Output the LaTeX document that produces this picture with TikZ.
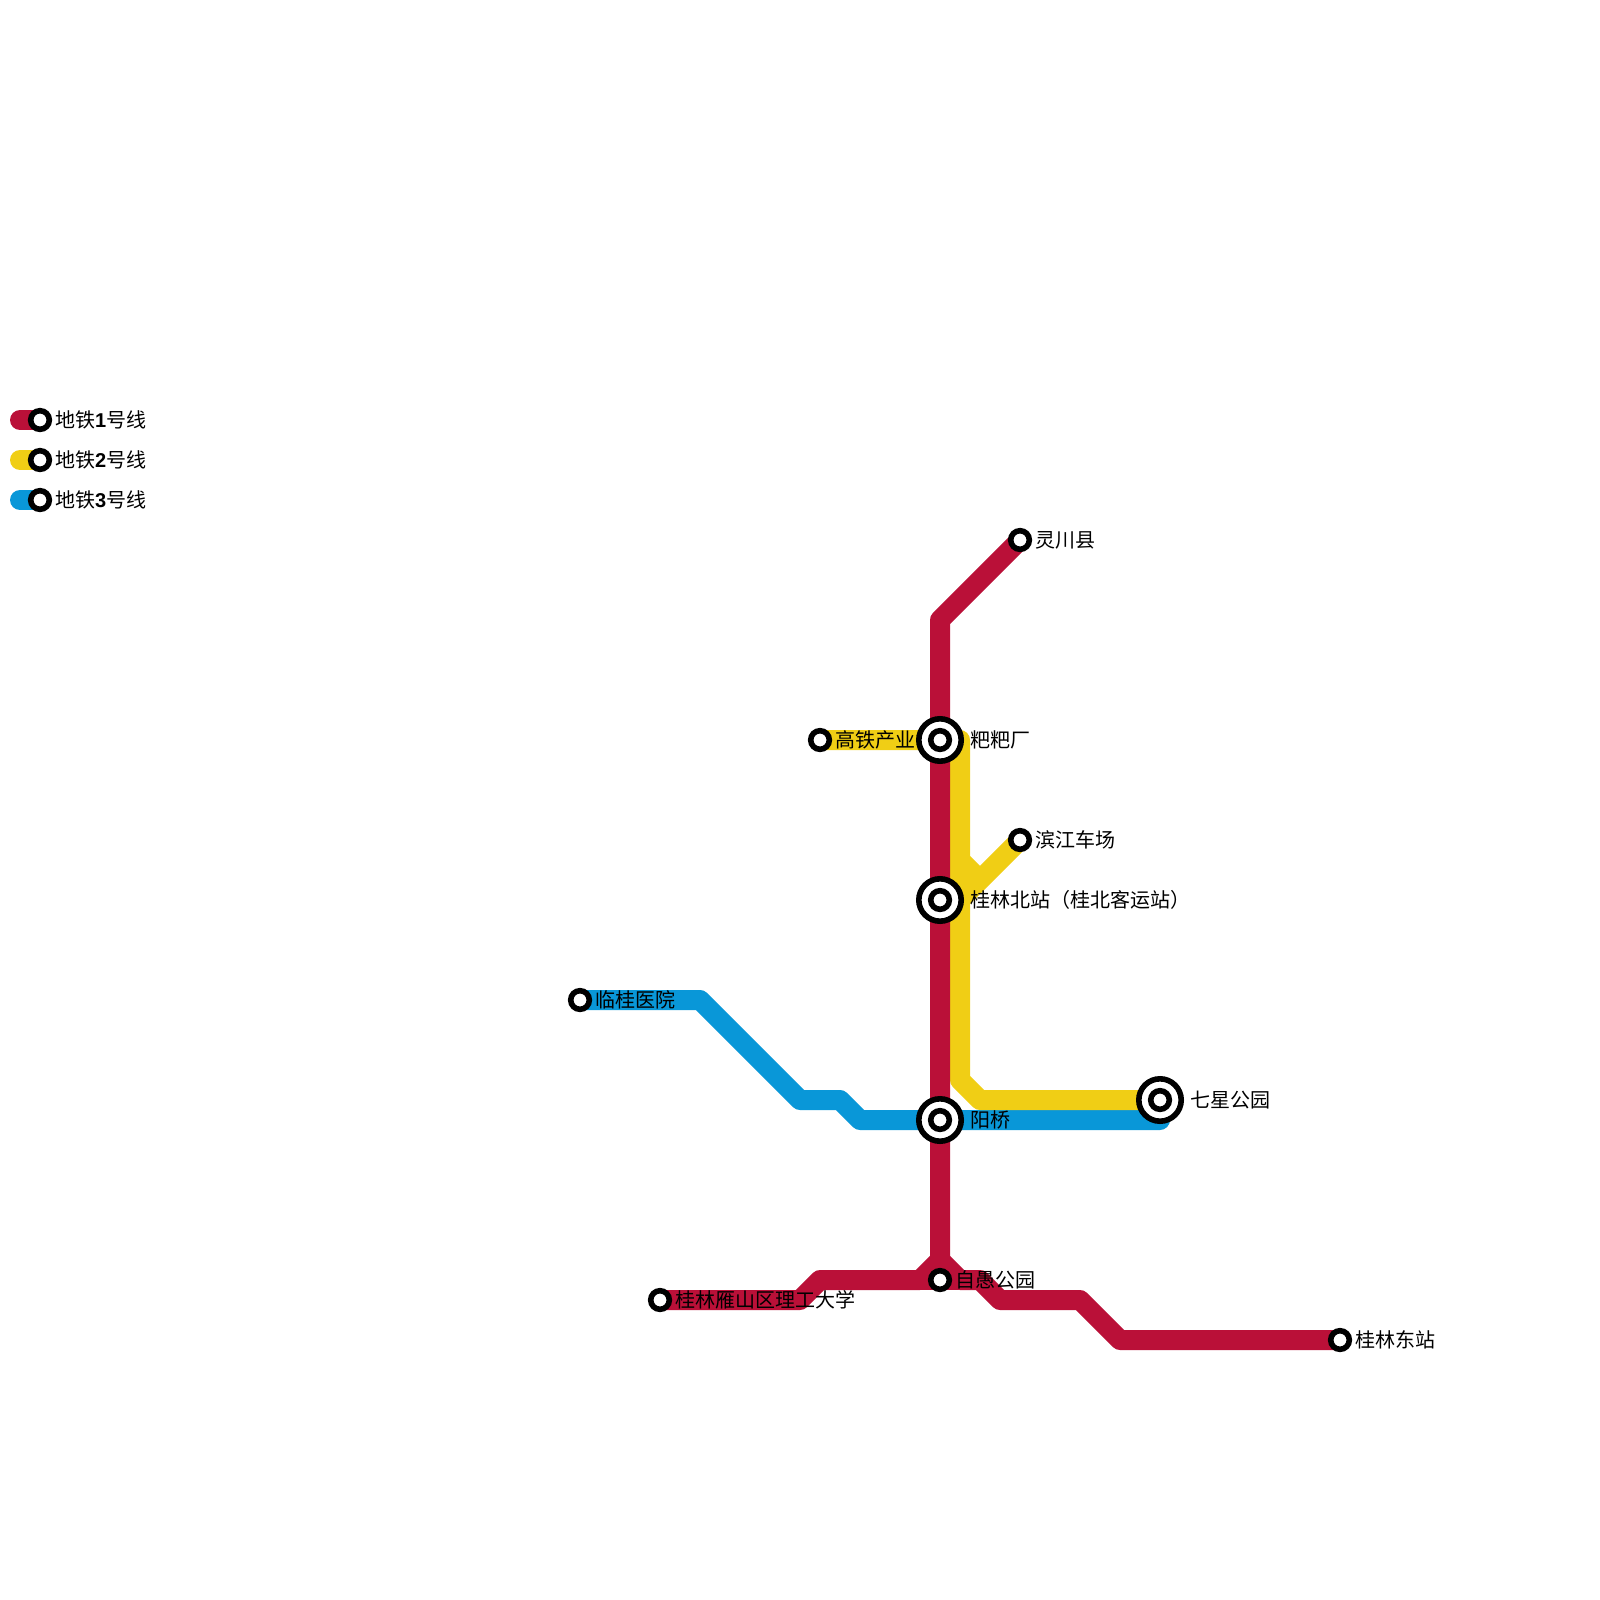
\documentclass[tikz,border=0pt]{standalone}
\usepackage{fontspec}
\setmainfont{Noto Sans CJK SC}
\newfontfamily\latinbold[Scale=1]{Liberation Sans Bold}
\definecolor{redline}{HTML}{BA1038}
\definecolor{yellowline}{HTML}{F0CE15}
\definecolor{blueline}{HTML}{0997D8}
\tikzset{
  x=1pt,y=-1pt,
  metro/.style={line width=20pt,line join=round,line cap=round},
  smallst/.style={circle,draw=black,fill=white,line width=5.6pt,minimum size=18.6pt,inner sep=0pt,outer sep=0pt},
  bigst/.style={circle,draw=black,fill=white,line width=5.6pt,minimum size=42.4pt,inner sep=0pt,outer sep=0pt},
  innerst/.style={circle,draw=black,fill=white,line width=5.6pt,minimum size=18.6pt,inner sep=0pt,outer sep=0pt},
  lbl/.style={anchor=west,inner sep=0pt,font=\fontsize{20}{24}\selectfont,text=black}
}
\begin{document}
\begin{tikzpicture}
\useasboundingbox (0,0) rectangle (1600,1600);
% line bends
\coordinate (ra) at (940,620);
\coordinate (rb) at (940,1260);
\coordinate (rc) at (920,1280);
\coordinate (rd) at (820,1280);
\coordinate (re) at (800,1300);
\coordinate (rf) at (960,1280);
\coordinate (rg) at (980,1280);
\coordinate (rh) at (1000,1300);
\coordinate (ri) at (1080,1300);
\coordinate (rj) at (1120,1340);
\coordinate (ya) at (960,740);
\coordinate (yb) at (960,860);
\coordinate (yc) at (980,880);
\coordinate (yd) at (960,900);
\coordinate (ye) at (960,1080);
\coordinate (yf) at (980,1100);
\coordinate (ba) at (700,1000);
\coordinate (bb) at (800,1100);
\coordinate (bc) at (840,1100);
\coordinate (bd) at (860,1120);
\coordinate (be) at (1160,1120);
\coordinate (l1) at (20,420);
\coordinate (l2) at (20,460);
\coordinate (l3) at (20,500);
% station anchors
\coordinate (lingchuan) at (1020,540);
\coordinate (baba) at (940,740);
\coordinate (gaotie) at (820,740);
\coordinate (binjiang) at (1020,840);
\coordinate (beizhan) at (940,900);
\coordinate (linggui) at (580,1000);
\coordinate (qixing) at (1160,1100);
\coordinate (yangqiao) at (940,1120);
\coordinate (ziyu) at (940,1280);
\coordinate (yanshan) at (660,1300);
\coordinate (dongzhan) at (1340,1340);
\coordinate (k1) at (40,420);
\coordinate (k2) at (40,460);
\coordinate (k3) at (40,500);
% lines
\draw[metro,blueline] (linggui) -- (ba) -- (bb) -- (bc) -- (bd) -- (be);
\draw[metro,blueline] (l3) -- (k3);
\draw[metro,yellowline] (gaotie) -- (baba) -- (ya) -- (yb) -- (yc) -- (binjiang) -- (yd) -- (ye) -- (yf) -- (qixing);
\draw[metro,yellowline] (yb) -- (yd);
\draw[metro,yellowline] (l2) -- (k2);
\draw[metro,redline] (lingchuan) -- (ra) -- (rb) -- (rc) -- (rd) -- (re) -- (yanshan);
\draw[metro,redline] (rc) -- (ziyu) -- (rf);
\draw[metro,redline] (rb) -- (rf) -- (rg) -- (rh) -- (ri) -- (rj) -- (dongzhan);
\draw[metro,redline] (l1) -- (k1);
% stations
\node[smallst] (s1) at (lingchuan) {};
\node[smallst] (s2) at (gaotie) {};
\node[smallst] (s3) at (binjiang) {};
\node[smallst] (s4) at (linggui) {};
\node[smallst] (s5) at (ziyu) {};
\node[smallst] (s6) at (yanshan) {};
\node[smallst] (s7) at (dongzhan) {};
\node[smallst] (s8) at (k1) {};
\node[smallst] (s9) at (k2) {};
\node[smallst] (s10) at (k3) {};
\foreach \n in {baba,beizhan,qixing,yangqiao}{
  \node[bigst] (big\n) at (\n) {};
  \node[innerst] (inner\n) at (\n) {};
}
% labels
\node[lbl] (t1) at (55,420) {地铁{\latinbold 1}号线};
\node[lbl] (t2) at (55,460) {地铁{\latinbold 2}号线};
\node[lbl] (t3) at (55,500) {地铁{\latinbold 3}号线};
\node[lbl] (t4) at (1035,540) {灵川县};
\node[lbl] (t5) at (835,740) {高铁产业};
\node[lbl] (t6) at (970,740) {粑粑厂};
\node[lbl] (t7) at (1035,840) {滨江车场};
\node[lbl] (t8) at (970,900) {桂林北站（桂北客运站）};
\node[lbl] (t9) at (595,1000) {临桂医院};
\node[lbl] (t10) at (1190,1100) {七星公园};
\node[lbl] (t11) at (970,1120) {阳桥};
\node[lbl] (t12) at (955,1280) {自愚公园};
\node[lbl] (t13) at (675,1300) {桂林雁山区理工大学};
\node[lbl] (t14) at (1355,1340) {桂林东站};
\end{tikzpicture}
\end{document}
